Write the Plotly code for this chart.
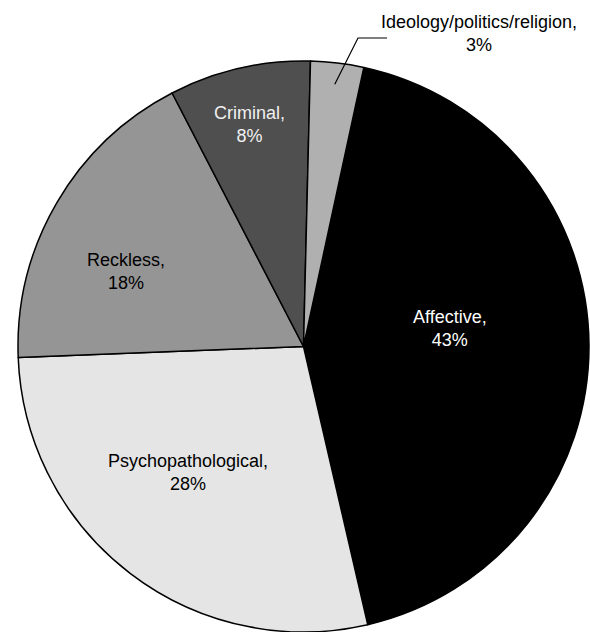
import math
import plotly.graph_objects as go

# Motive categories and their shares (%), in clockwise order
categories = ["Affective", "Psychopathological", "Reckless", "Criminal",
              "Ideology/politics/religion"]
shares = [43, 28, 18, 8, 3]

slice_colors = ["#000000", "#e5e5e5", "#959595", "#4f4f4f", "#b0b0b0"]
text_colors = ["#ffffff", "#000000", "#000000", "#f0f0f0", "#000000"]

# Label centres in pixels (x from left, y from top)
label_pos = [(450, 328), (188, 472), (126, 271), (249, 125), (479, 33)]

W, H = 590, 632
FONT = "Liberation Sans, Arial, sans-serif"
ROTATION = 12.2
DOM_X = [18 / W, 589 / W]
DOM_Y = [0, 1 - 61 / H]

fig = go.Figure(go.Pie(
    labels=categories,
    values=shares,
    sort=False,
    direction="clockwise",
    rotation=ROTATION,
    textinfo="none",
    marker=dict(colors=slice_colors, line=dict(color="#000000", width=1.5)),
    domain=dict(x=DOM_X, y=DOM_Y),
    hoverinfo="label+percent",
    showlegend=False,
))


def px_to_paper(x, y):
    return x / W, 1 - y / H


# Slice labels
for cat, val, col, (lx, ly) in zip(categories, shares, text_colors, label_pos):
    px, py = px_to_paper(lx, ly)
    fig.add_annotation(
        x=px, y=py, xref="paper", yref="paper",
        text=f"{cat},<br>{val}%", showarrow=False,
        xanchor="center", yanchor="middle", align="center",
        font=dict(family=FONT, size=18, color=col),
    )

# Leader line for the thin slice: starts inside the slice on its bisector
cx = (DOM_X[0] + DOM_X[1]) / 2 * W
cy = (1 - (DOM_Y[0] + DOM_Y[1]) / 2) * H
R = min((DOM_X[1] - DOM_X[0]) * W, (DOM_Y[1] - DOM_Y[0]) * H) / 2
total = sum(shares)
start = ROTATION + 360 * sum(shares[:-1]) / total
mid = math.radians(start + 180 * shares[-1] / total)
r_in = 0.925 * R
x0, y0 = cx + r_in * math.sin(mid), cy - r_in * math.cos(mid)
x1, y1 = 358, 38
x2, y2 = 387, 38
pts = [px_to_paper(*p) for p in [(x0, y0), (x1, y1), (x2, y2)]]
path = "M {} {} L {} {} L {} {}".format(*[c for p in pts for c in p])
fig.add_shape(type="path", path=path, xref="paper", yref="paper",
              line=dict(color="#000000", width=1.2))

fig.update_layout(
    width=W, height=H,
    margin=dict(l=0, r=0, t=0, b=0),
    paper_bgcolor="white",
    plot_bgcolor="white",
    font=dict(family=FONT, size=18, color="#000000"),
)

fig.write_html("out.html")
